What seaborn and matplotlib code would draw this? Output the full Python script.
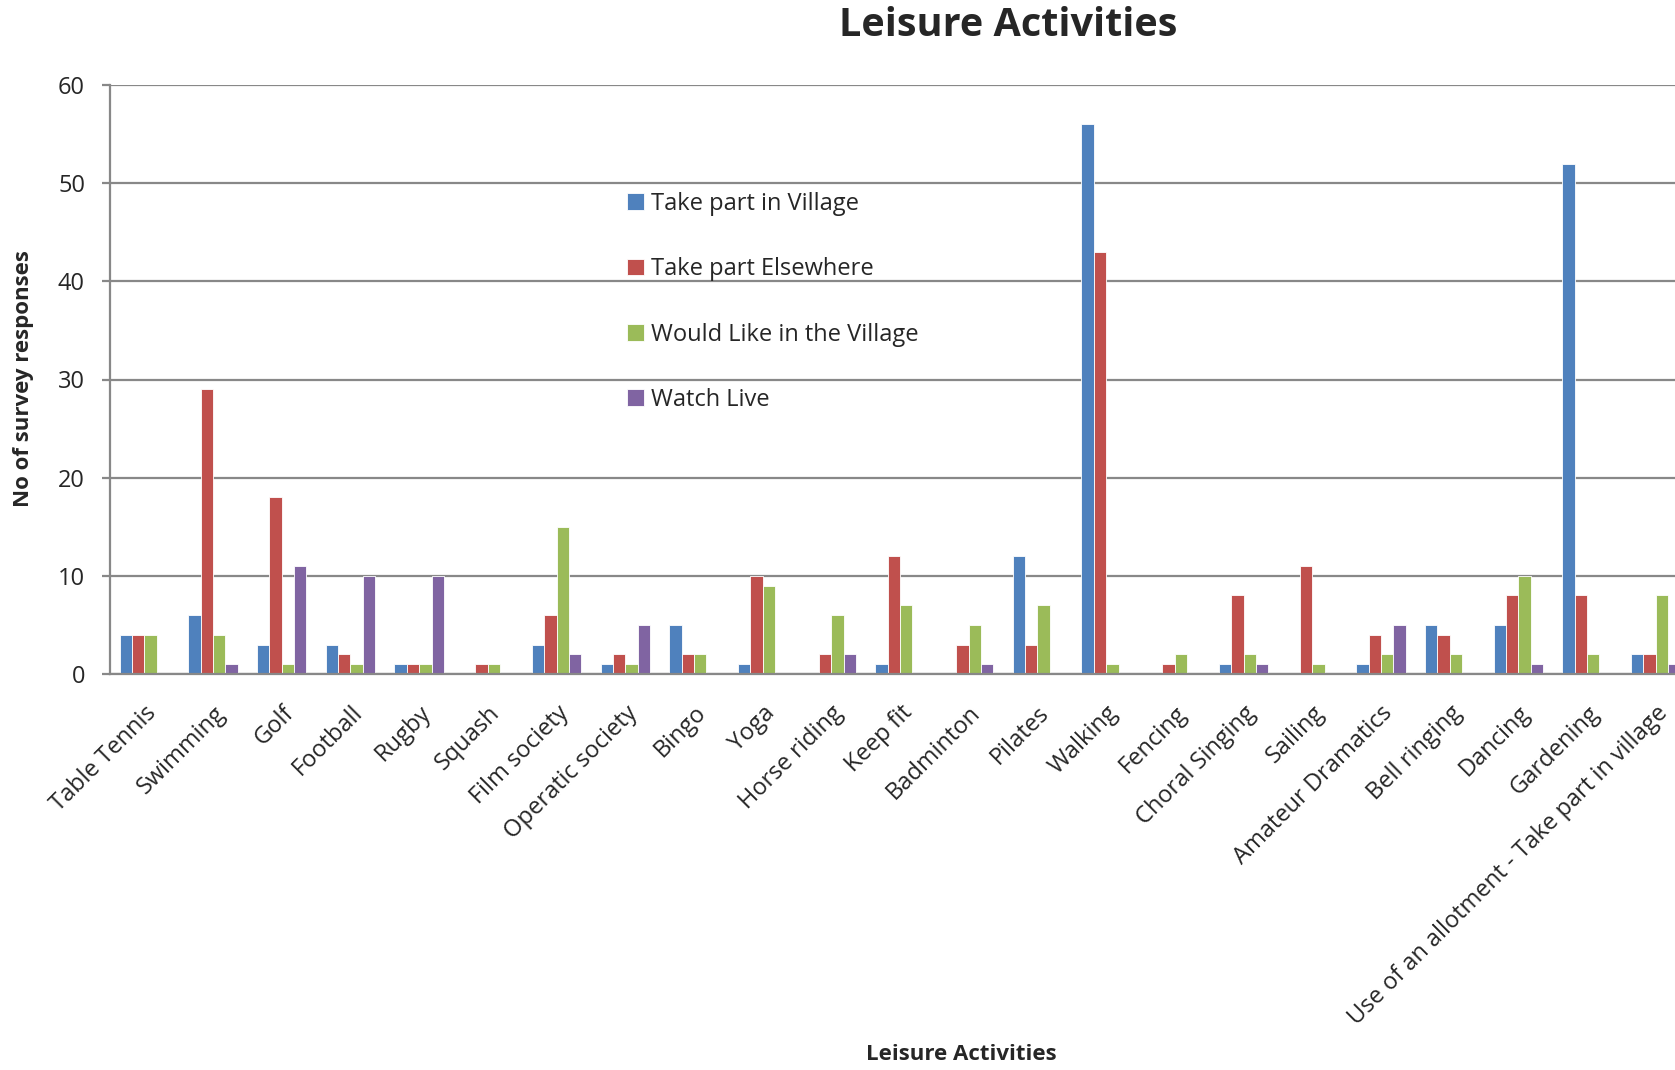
import matplotlib
matplotlib.use("Agg")
import matplotlib.pyplot as plt
import pandas as pd
import seaborn as sns

activities = [
    "Table Tennis", "Swimming", "Golf", "Football", "Rugby", "Squash",
    "Film society", "Operatic society", "Bingo", "Yoga", "Horse riding",
    "Keep fit", "Badminton", "Pilates", "Walking", "Fencing",
    "Choral Singing", "Sailing", "Amateur Dramatics", "Bell ringing",
    "Dancing", "Gardening", "Use of an allotment - Take part in village",
]
take_part_village = [4, 6, 3, 3, 1, 0, 3, 1, 5, 1, 0, 1, 0, 12, 56, 0, 1, 0, 1, 5, 5, 52, 2]
take_part_elsewhere = [4, 29, 18, 2, 1, 1, 6, 2, 2, 10, 2, 12, 3, 3, 43, 1, 8, 11, 4, 4, 8, 8, 2]
would_like_village = [4, 4, 1, 1, 1, 1, 15, 1, 2, 9, 6, 7, 5, 7, 1, 2, 2, 1, 2, 2, 10, 2, 8]
watch_live = [0, 1, 11, 10, 10, 0, 2, 5, 0, 0, 2, 0, 1, 0, 0, 0, 1, 0, 5, 0, 1, 0, 1]

series = ["Take part in Village", "Take part Elsewhere", "Would Like in the Village", "Watch Live"]
colors = ["#4F81BD", "#C0504D", "#9BBB59", "#8064A2"]

df = pd.DataFrame({
    "activity": activities * 4,
    "series": [s for s in series for _ in activities],
    "value": take_part_village + take_part_elsewhere + would_like_village + watch_live,
})

sns.set_style("white")
plt.rcParams["font.family"] = ["Open Sans", "DejaVu Sans"]

fig = plt.figure(figsize=(16.75, 10.7), dpi=100)
ax = fig.add_axes([110 / 1675, 1 - 674 / 1070, 1 - 110 / 1675, (674 - 85) / 1070])

sns.barplot(data=df, x="activity", y="value", hue="series", hue_order=series,
            palette=colors, width=0.72, gap=0, saturation=1,
            edgecolor="white", linewidth=0.6, ax=ax, legend=True)

ax.set_ylim(0, 60)
ax.set_yticks(range(0, 61, 10))
ax.set_xlim(-0.5, 22.28)
ax.yaxis.grid(True, color="#888888", linewidth=1.6)
ax.set_axisbelow(True)
for side in ["top", "right"]:
    ax.spines[side].set_visible(False)
for side in ["left", "bottom"]:
    ax.spines[side].set_color("#888888")
    ax.spines[side].set_linewidth(1.6)

ax.tick_params(axis="y", left=True, length=6, width=1.6, color="#888888",
               labelsize=17, pad=12)
ax.tick_params(axis="x", bottom=False, labelsize=17, pad=16)
plt.setp(ax.get_xticklabels(), rotation=45, ha="right", rotation_mode="anchor")

ax.set_xlabel("")
ax.set_ylabel("")
fig.text(961 / 1675, 1 - 1055 / 1070, "Leisure Activities", ha="center", va="center",
         fontsize=16, fontweight="bold")
fig.text(24 / 1675, 1 - 379 / 1070, "No of survey responses", ha="center", va="center",
         rotation=90, fontsize=16, fontweight="bold")
fig.text(1008 / 1675, 1 - 25 / 1070, "Leisure Activities", ha="center", va="center",
         fontsize=28.5, fontweight="bold")

ax.legend(loc="upper left", bbox_to_anchor=(627 / 1675, 1 - 192 / 1070),
          bbox_transform=fig.transFigure, frameon=False, fontsize=17,
          handlelength=0.7, handleheight=0.7, handletextpad=0.3,
          labelspacing=1.75, borderpad=0, borderaxespad=0)

fig.savefig("out.png", dpi=100)
